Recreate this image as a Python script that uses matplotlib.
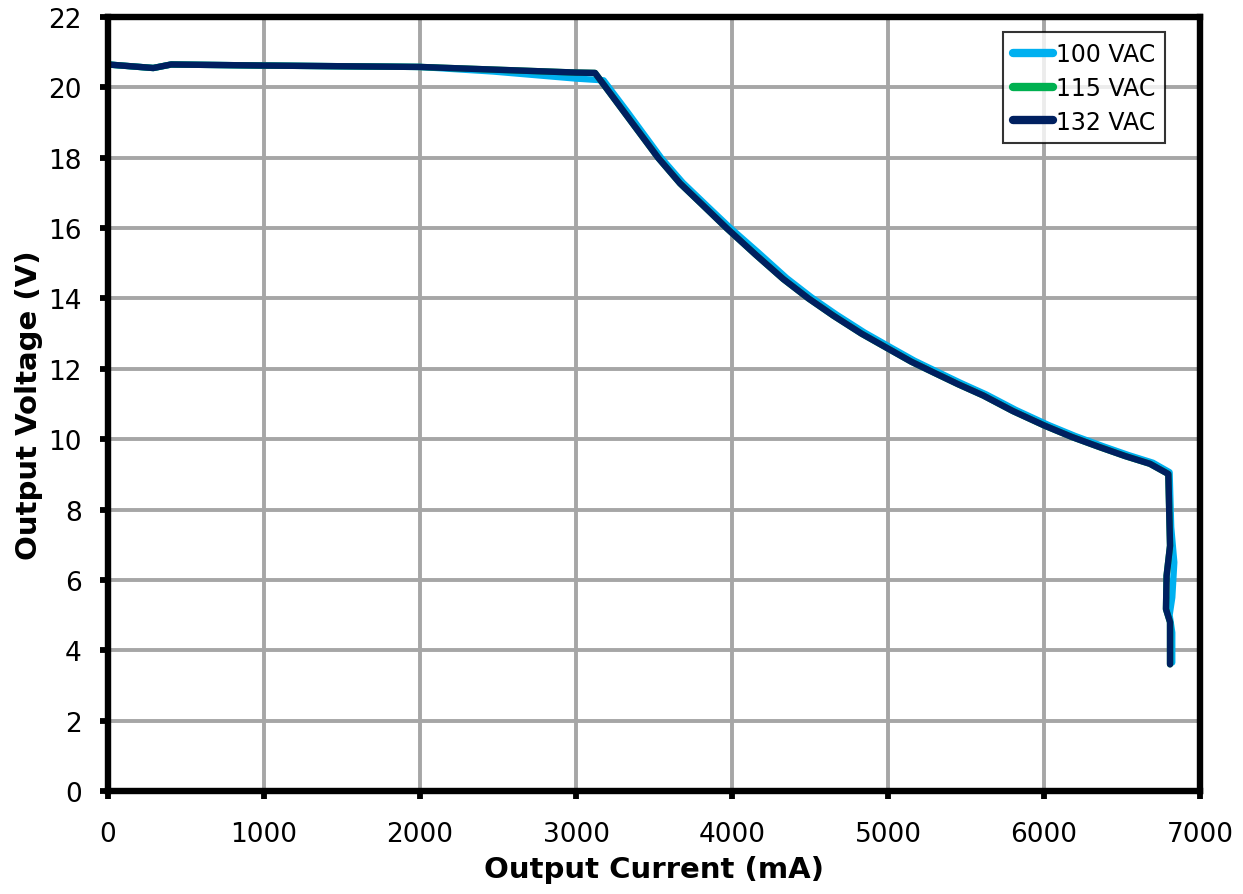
import matplotlib
matplotlib.use("Agg")
import matplotlib.pyplot as plt

# Output current (mA) / voltage (V) curves for three line voltages
i_100 = [0, 290, 405, 1000, 2000, 2470, 3000, 3177, 3330, 3545, 3685, 3838, 3985, 4170, 4350, 4510, 4670, 4850,
         5025, 5170, 5310, 5470, 5630, 5820, 6025, 6200, 6378, 6540, 6698, 6805,
         6815, 6835, 6822, 6805, 6822, 6822]
v_100 = [20.65, 20.55, 20.65, 20.62, 20.58, 20.45, 20.25, 20.2, 19.3, 18.0, 17.29, 16.64, 16.02, 15.3, 14.58, 14.03, 13.54, 13.03,
         12.59, 12.23, 11.93, 11.59, 11.27, 10.83, 10.41, 10.09, 9.8, 9.55, 9.33, 9.06,
         7.5, 6.5, 5.5, 5.0, 4.5, 3.65]

i_115 = [0, 290, 405, 1000, 2000, 2500, 3000, 3122, 3303, 3526, 3667, 3820, 3965, 4150, 4329, 4490, 4650, 4830,
         5006, 5150, 5290, 5450, 5611, 5800, 6006, 6180, 6359, 6520, 6679, 6797,
         6808, 6786, 6782, 6808, 6808]
v_115 = [20.65, 20.55, 20.65, 20.62, 20.58, 20.5, 20.42, 20.41, 19.33, 18.0, 17.27, 16.62, 16.0, 15.25, 14.55, 14.0, 13.51, 13.0,
         12.56, 12.2, 11.9, 11.56, 11.24, 10.8, 10.38, 10.06, 9.77, 9.52, 9.3, 9.01,
         6.97, 6.12, 5.17, 4.8, 3.6]

i_132 = [0, 290, 405, 1000, 2000, 2500, 3000, 3122, 3303, 3526, 3667, 3820, 3965, 4150, 4329, 4490, 4650, 4830,
         5006, 5150, 5290, 5450, 5611, 5800, 6006, 6180, 6359, 6520, 6679, 6797,
         6808, 6786, 6782, 6808, 6808]
v_132 = [20.65, 20.55, 20.65, 20.62, 20.58, 20.5, 20.42, 20.41, 19.33, 18.0, 17.27, 16.62, 16.0, 15.25, 14.55, 14.0, 13.51, 13.0,
         12.56, 12.2, 11.9, 11.56, 11.24, 10.8, 10.38, 10.06, 9.77, 9.52, 9.3, 9.01,
         6.97, 6.12, 5.17, 4.8, 3.6]

labels = ["100 VAC", "115 VAC", "132 VAC"]
colors = ["#00b0f0", "#00b050", "#002060"]

fig = plt.figure(figsize=(12.43, 8.95), dpi=100)
ax = fig.add_axes([0.0869, 0.1151, 0.8785, 0.8648])

for xs, ys, lab, c in zip([i_100, i_115, i_132], [v_100, v_115, v_132], labels, colors):
    ax.plot(xs, ys, color=c, lw=4.6, label=lab, solid_capstyle="round", solid_joinstyle="round")

ax.set_xlim(0, 7000)
ax.set_ylim(0, 22)
ax.set_xticks(range(0, 7001, 1000))
ax.set_yticks(range(0, 23, 2))
ax.grid(True, color="#a6a6a6", lw=2.8)
ax.set_axisbelow(True)
for s in ax.spines.values():
    s.set_linewidth(4.6)
    s.set_color("black")
    s.set_capstyle("projecting")
ax.tick_params(labelsize=19, width=4.2, length=5.8, direction="out")
ax.tick_params(axis="x", pad=16)
ax.tick_params(axis="y", pad=13)

ax.set_xlabel("Output Current (mA)", fontsize=21, fontweight="bold", va="center")
ax.set_ylabel("Output Voltage (V)", fontsize=21, fontweight="bold", va="center")
ax.xaxis.set_label_coords(0.5, -0.101)
ax.yaxis.set_label_coords(-0.0725, 0.5)

leg = ax.legend(loc="upper right", bbox_to_anchor=(0.968, 0.98), fontsize=17, frameon=True,
                fancybox=False, handlelength=1.7, handletextpad=0.15, borderpad=0.4,
                labelspacing=0.42, borderaxespad=0)
leg.get_frame().set_edgecolor("black")
leg.get_frame().set_linewidth(1.5)
for ln in leg.get_lines():
    ln.set_linewidth(6)
    ln.set_solid_capstyle("round")

fig.savefig("out.png", dpi=100)
